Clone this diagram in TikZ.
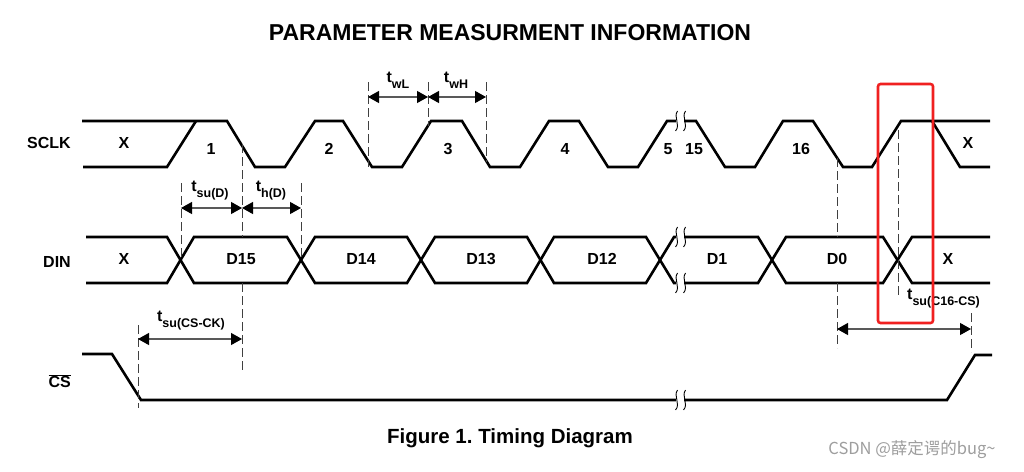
\documentclass[tikz,border=0pt]{standalone}
\usepackage{fontspec}
\setmainfont{Liberation Sans}
\newfontfamily\cjk{Noto Sans CJK SC}
\usetikzlibrary{arrows.meta}
\frenchspacing
\newcommand\tlab[1]{t\raisebox{-0.38em}{\fontsize{12.5}{12.5}\selectfont #1}}
\definecolor{boxred}{RGB}{240,32,32}
\tikzset{
  sig/.style={line width=2.6pt, line join=miter, black},
  guide/.style={line width=0.9pt, black!75, dash pattern=on 9pt off 4pt},
  dimarrow/.style={{Triangle[length=11pt,width=12pt,color=black]}-{Triangle[length=11pt,width=12pt,color=black]}, line width=1.2pt, draw=black!65},
  lbl/.style={font=\fontsize{16}{16}\selectfont\bfseries, inner sep=0pt},
  tlbl/.style={font=\fontsize{16}{16}\selectfont\bfseries, inner sep=0pt},
  brkmark/.pic={
    \fill[white] (-4,-10) rectangle (4,10);
    \draw[line width=0.9pt] (-2.5,-10) .. controls (-7,-4) and (1,4) .. (-4.5,10);
    \draw[line width=0.9pt] (5.5,-10) .. controls (1,-4) and (9,4) .. (3.5,10);
  }
}
\begin{document}
\begin{tikzpicture}[x=1pt,y=-1pt]
\useasboundingbox (0,0) rectangle (1024,471);
\fill[white] (0,0) rectangle (1024,471);

% titles
\node[font=\fontsize{23}{23}\selectfont\bfseries, inner sep=0pt] (title) at (510,33) {PARAMETER MEASURMENT INFORMATION};
\node[font=\fontsize{20.5}{20.5}\selectfont\bfseries, inner sep=0pt] (caption) at (510,438) {Figure 1. Timing Diagram};
\node[font=\fontsize{16.5}{16.5}\selectfont\cjk, text=black!38, inner sep=0pt] (wm) at (912,450) {CSDN @薛定谔的bug\textasciitilde};

% signal names
\node[lbl, anchor=east] (nSCLK) at (71,143) {SCLK};
\node[lbl, anchor=east] (nDIN) at (71,262) {DIN};
\node[lbl, anchor=east] (nCS) at (71,381) {$\overline{\mbox{CS}}$};

% SCLK waveform
\draw[sig] (82,121) -- (227,121) -- (255,167) -- (285,167) -- (315,121) -- (343,121)
  -- (372,167) -- (402,167) -- (431,121) -- (462,121) -- (490,167) -- (520,167)
  -- (549,121) -- (579,121) -- (608,167) -- (638,167) -- (667,121) -- (696,121)
  -- (725,167) -- (755,167) -- (783,121) -- (813,121) -- (843,167) -- (872,167)
  -- (901,121) -- (990,121);
\draw[sig] (83,167) -- (167,167) -- (196,121);
\draw[sig] (932,121) -- (960,167) -- (990,167);
\pic at (680,121) {brkmark};

% SCLK labels
\node[lbl] (cx1) at (124,143) {X};
\node[lbl] (c1) at (211,149) {1};
\node[lbl] (c2) at (329,149) {2};
\node[lbl] (c3) at (448,149) {3};
\node[lbl] (c4) at (565,149) {4};
\node[lbl] (c5) at (668,149) {5};
\node[lbl] (c15) at (694,149) {15};
\node[lbl] (c16) at (801,149) {16};
\node[lbl] (cx2) at (968,143) {X};

% DIN waveform
\draw[sig] (86,237) -- (167,237) -- (194,283) -- (287,283) -- (315,237) -- (407,237)
  -- (435,283) -- (527,283) -- (554,237) -- (646,237) -- (674,283) -- (684,283)
  -- (758,283) -- (786,237) -- (883,237) -- (912,283) -- (990,283);
\draw[sig] (86,283) -- (167,283) -- (194,237) -- (287,237) -- (315,283) -- (407,283)
  -- (435,237) -- (527,237) -- (554,283) -- (646,283) -- (674,237) -- (684,237)
  -- (758,237) -- (786,283) -- (883,283) -- (912,237) -- (990,237);
\pic at (680,237) {brkmark};
\pic at (680,283) {brkmark};

% DIN labels
\node[lbl] (dx1) at (124,259) {X};
\node[lbl] (d15) at (241,259) {D15};
\node[lbl] (d14) at (361,259) {D14};
\node[lbl] (d13) at (481,259) {D13};
\node[lbl] (d12) at (602,259) {D12};
\node[lbl] (d1) at (717,259) {D1};
\node[lbl] (d0) at (837,259) {D0};
\node[lbl] (dx2) at (948,259) {X};

% CS waveform
\draw[sig] (82,354) -- (112,354) -- (141,400) -- (947,400) -- (975,355) -- (992,355);
\pic at (680,400) {brkmark};

% guide lines
\draw[guide] (181,183) -- (181,260);
\draw[guide] (242,144) -- (242,237);
\draw[guide] (242,283) -- (242,372);
\draw[guide] (301,183) -- (301,260);
\draw[guide] (368,82) -- (368,167);
\draw[guide] (428,82) -- (428,126);
\draw[guide] (486,82) -- (486,162);
\draw[guide] (837,158) -- (837,237);
\draw[guide] (837,283) -- (837,348);
\draw[guide] (898,130) -- (898,298);
\draw[guide] (971,313) -- (971,352);
\draw[guide] (138,325) -- (138,408);

% dimension coordinates
\coordinate (wLa) at (368,97);
\coordinate (wLb) at (428,97);
\coordinate (wHb) at (486,97);
\coordinate (sDa) at (181,208);
\coordinate (sDb) at (242,208);
\coordinate (hDb) at (301,208);
\coordinate (cka) at (138,339);
\coordinate (ckb) at (242,339);
\coordinate (c16a) at (837,329);
\coordinate (c16b) at (971,329);

\draw[dimarrow] (wLa) -- (wLb);
\draw[dimarrow] (wLb) -- (wHb);
\draw[dimarrow] (sDa) -- (sDb);
\draw[dimarrow] (sDb) -- (hDb);
\draw[dimarrow] (cka) -- (ckb);
\draw[dimarrow] (c16a) -- (c16b);

% timing labels
\node[tlbl] (twl) at (398,80) {\tlab{wL}};
\node[tlbl] (twh) at (456,80) {\tlab{wH}};
\node[tlbl] (tsud) at (210,191) {\tlab{su(D)}};
\node[tlbl] (thd) at (271,191) {\tlab{h(D)}};
\node[tlbl] (tsuck) at (191,321) {\tlab{su(CS-CK)}};
\node[tlbl, anchor=west] (tsuc16) at (907,299) {\tlab{su(C16-CS)}};

% red highlight box
\draw[boxred, line width=2.6pt, rounded corners=2.5pt] (878,84) rectangle (933,323);
\end{tikzpicture}
\end{document}
